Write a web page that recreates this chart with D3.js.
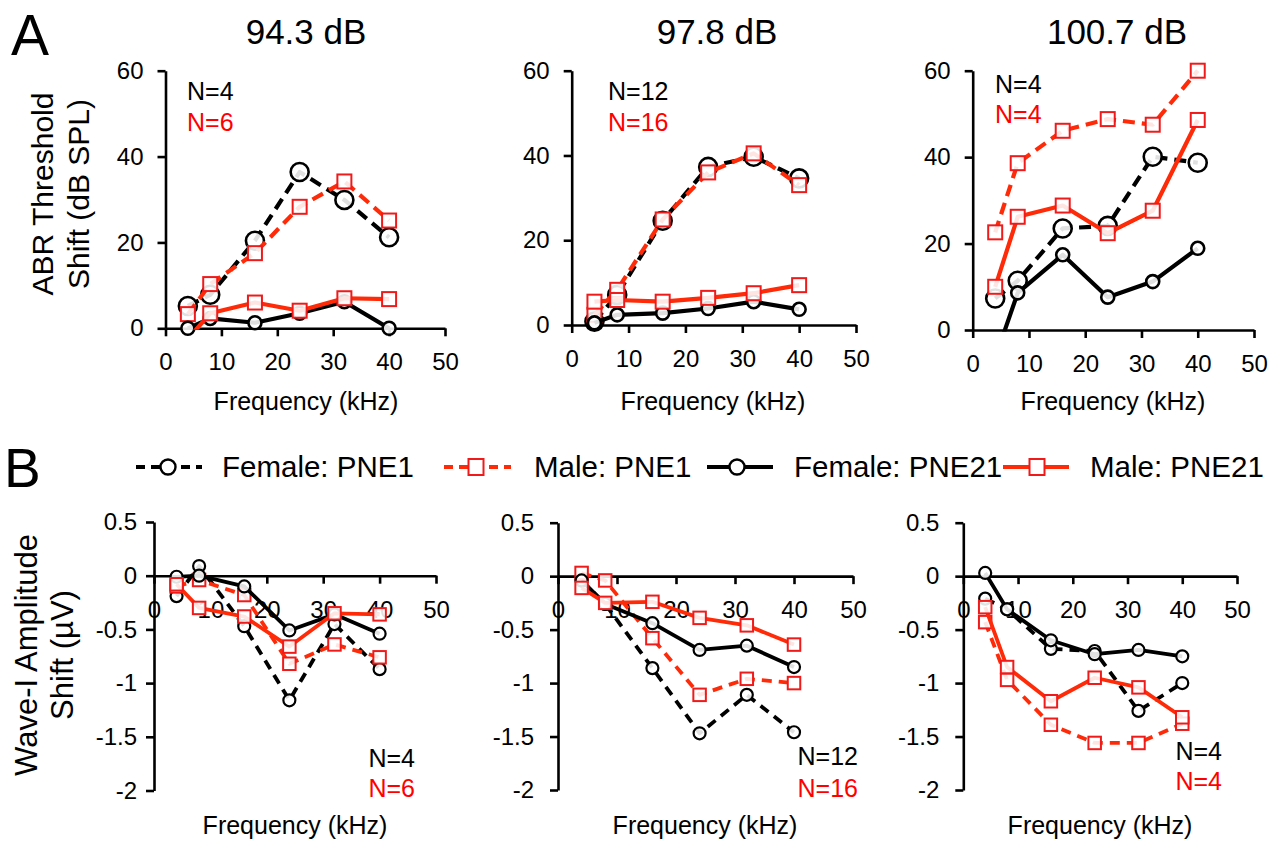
<!DOCTYPE html>
<html>
<head>
<meta charset="utf-8">
<script src="https://cdn.jsdelivr.net/npm/d3@7"></script>
<style>
  body { margin: 0; background: #fff; }
  text { font-family: "Liberation Sans", Arial, Helvetica, sans-serif; }
</style>
</head>
<body>
<svg id="chart"></svg>
<script>
// Data
const frequencies = [4, 8, 16, 24, 32, 40];
const soundLevels = ["94.3 dB", "97.8 dB", "100.7 dB"];
const femaleN = ["N=4", "N=12", "N=4"];
const maleN = ["N=6", "N=16", "N=4"];
const seriesLabels = ["Female: PNE1", "Male: PNE1", "Female: PNE21", "Male: PNE21"];
const xTicks = [0, 10, 20, 30, 40, 50];
const abrTicks = [0, 20, 40, 60];
const waveTicks = [0.5, 0, -0.5, -1, -1.5, -2];

// ABR threshold shift (dB SPL), one row per sound level
const abrFemalePNE1 = [
    [5.2, 7.8, 20.4, 36.4, 29.9, 21.2],
    [0.8, 7.1, 24.6, 37.3, 39.7, 34.6],
    [7.3, 11.4, 23.5, 24.1, 40.1, 38.7]
];
const abrMalePNE1 = [
    [3.3, 10.3, 17.5, 28.3, 34.2, 25.1],
    [2.4, 8.3, 24.9, 36.0, 40.5, 33.0],
    [22.6, 38.6, 46.1, 48.8, 47.5, 60.0]
];
const abrFemalePNE21 = [
    [0, 2.3, 1.3, 3.5, 6.2, 0],
    [0.5, 2.4, 2.8, 3.9, 5.5, 3.7],
    [-6.5, 8.6, 17.4, 7.6, 11.2, 18.9]
];
const abrMalePNE21 = [
    [-2.5, 3.5, 6.0, 4.1, 7.0, 6.8],
    [5.5, 5.9, 5.5, 6.4, 7.5, 9.4],
    [10.0, 26.2, 28.8, 22.4, 27.6, 48.6]
];

// Wave-I amplitude shift (uV), one row per sound level
const waveFemalePNE1 = [
    [-0.19, 0.09, -0.47, -1.16, -0.45, -0.87],
    [-0.04, -0.26, -0.86, -1.47, -1.11, -1.46],
    [-0.21, -0.31, -0.68, -0.70, -1.26, -1.00]
];
const waveMalePNE1 = [
    [-0.10, -0.04, -0.18, -0.82, -0.64, -0.76],
    [0.03, -0.04, -0.58, -1.11, -0.96, -1.00],
    [-0.43, -0.97, -1.39, -1.56, -1.56, -1.38]
];
const waveFemalePNE21 = [
    [-0.01, 0.0, -0.10, -0.51, -0.36, -0.54],
    [-0.04, -0.26, -0.44, -0.69, -0.65, -0.85],
    [0.03, -0.31, -0.60, -0.73, -0.69, -0.75]
];
const waveMalePNE21 = [
    [-0.08, -0.30, -0.38, -0.66, -0.35, -0.36],
    [-0.11, -0.25, -0.24, -0.39, -0.46, -0.64],
    [-0.29, -0.85, -1.17, -0.95, -1.04, -1.32]
];

// Styling
const width = 1282, height = 841;
const black = "#000";
const lineRed = "#ff2b08";
const markRed = "#f01a1a";
const textRed = "#ff0000";
const styles = [
    { stroke: black, dashed: true, shape: "circle", big: true },
    { stroke: lineRed, dashed: true, shape: "square" },
    { stroke: black, dashed: false, shape: "circle", big: false },
    { stroke: lineRed, dashed: false, shape: "square" }
];

// Panel geometry
const topPanels = [
    { left: 165.5, right: 445, top: 70.7, bottom: 328.3, pad: 14, title: 306, freq: 306, nx: 187, ny: [100, 131] },
    { left: 571.7, right: 856, top: 70.7, bottom: 325, pad: 14, title: 717, freq: 713, nx: 608, ny: [100, 131] },
    { left: 972.7, right: 1254, top: 70.7, bottom: 330, pad: 14, title: 1117, freq: 1113, nx: 995, ny: [93, 123] }
];
const bottomPanels = [
    { left: 154, right: 436, top: 522, bottom: 790.5, pad: 9, freq: 295, nx: 415, ny: [767, 797] },
    { left: 558, right: 853, top: 522.7, bottom: 790, pad: 16, freq: 705, nx: 858, ny: [765, 797] },
    { left: 963.3, right: 1237, top: 522.7, bottom: 790, pad: 16, freq: 1100, nx: 1222, ny: [760, 790] }
];

const svg = d3.select("#chart")
    .attr("width", width)
    .attr("height", height);

function styleAxis(g, fontSize) {
    g.select(".domain").attr("stroke", black).attr("stroke-width", 2.6);
    g.selectAll(".tick line").attr("stroke", black).attr("stroke-width", 2.6);
    g.selectAll(".tick text")
        .attr("fill", black)
        .style("font-size", fontSize + "px")
        .style("font-family", "'Liberation Sans', Arial, sans-serif");
}

function drawPanel(geo, idx, yDomain, yTicks, seriesData, isTop) {
    const g = svg.append("g");
    const x = d3.scaleLinear().domain([0, 50]).range([geo.left, geo.right]);
    const y = d3.scaleLinear().domain(yDomain).range([geo.bottom, geo.top]);

    // y axis
    const ya = g.append("g")
        .attr("transform", `translate(${geo.left},0)`)
        .call(d3.axisLeft(y).tickValues(yTicks).tickSize(8).tickSizeOuter(0)
            .tickPadding(geo.pad).tickFormat(d => String(d)));
    styleAxis(ya, 24);

    // x axis at zero
    const xa = g.append("g")
        .attr("transform", `translate(0,${y(0)})`)
        .call(d3.axisBottom(x).tickValues(xTicks).tickSize(8).tickSizeOuter(0).tickPadding(17));
    styleAxis(xa, 24);

    // clip lines at the zero line for the threshold panels
    const clipId = "clip" + (isTop ? "t" : "b") + idx;
    g.append("clipPath").attr("id", clipId)
        .append("rect")
        .attr("x", geo.left - 20).attr("width", geo.right - geo.left + 40)
        .attr("y", geo.top - 30)
        .attr("height", (isTop ? y(0) + 1.5 : geo.bottom + 20) - (geo.top - 30));

    const line = d3.line().x(d => x(d.f)).y(d => y(d.v));

    seriesData.forEach((vals, si) => {
        const st = styles[si];
        const pts = frequencies.map((f, i) => ({ f: f, v: vals[idx][i] }));
        g.append("path")
            .datum(pts)
            .attr("clip-path", `url(#${clipId})`)
            .attr("fill", "none")
            .attr("stroke", st.stroke)
            .attr("stroke-width", isTop ? 4.2 : 3.8)
            .attr("stroke-dasharray", st.dashed ? (isTop ? "12,7" : "10,7") : null)
            .attr("stroke-linejoin", "round")
            .attr("d", line);

        const shown = pts.filter(d => d.v >= yDomain[0]);
        if (st.shape === "circle") {
            const r = isTop ? (st.big ? 9 : 6.5) : 6;
            g.selectAll(null).data(shown).enter().append("circle")
                .attr("cx", d => x(d.f)).attr("cy", d => y(d.v)).attr("r", r)
                .attr("fill", "#fff").attr("fill-opacity", 0.88)
                .attr("stroke", black).attr("stroke-width", isTop ? 2.6 : 2.2);
        } else {
            const s = isTop ? 14 : 12.5;
            g.selectAll(null).data(shown).enter().append("rect")
                .attr("x", d => x(d.f) - s / 2).attr("y", d => y(d.v) - s / 2)
                .attr("width", s).attr("height", s)
                .attr("fill", "#fff").attr("fill-opacity", 0.88)
                .attr("stroke", markRed).attr("stroke-width", 2);
        }
    });

    // N labels
    const anchor = isTop ? "start" : "end";
    g.append("text").attr("x", geo.nx).attr("y", geo.ny[0])
        .attr("text-anchor", anchor).style("font-size", "25px").attr("fill", black)
        .text(femaleN[idx]);
    g.append("text").attr("x", geo.nx).attr("y", geo.ny[1])
        .attr("text-anchor", anchor).style("font-size", "25px").attr("fill", textRed)
        .text(maleN[idx]);

    // x axis title
    g.append("text").attr("x", geo.freq).attr("y", isTop ? 410 : 834)
        .attr("text-anchor", "middle").style("font-size", "25px")
        .text("Frequency (kHz)");

    if (isTop) {
        g.append("text").attr("x", geo.title).attr("y", 44)
            .attr("text-anchor", "middle").style("font-size", "35px")
            .text(soundLevels[idx]);
    }
}

const abrSeries = [abrFemalePNE1, abrMalePNE1, abrFemalePNE21, abrMalePNE21];
const waveSeries = [waveFemalePNE1, waveMalePNE1, waveFemalePNE21, waveMalePNE21];

topPanels.forEach((geo, i) => drawPanel(geo, i, [0, 60], abrTicks, abrSeries, true));
bottomPanels.forEach((geo, i) => drawPanel(geo, i, [-2, 0.5], waveTicks, waveSeries, false));

// Panel letters
svg.append("text").attr("x", 11).attr("y", 55).style("font-size", "57px").text("A");
svg.append("text").attr("x", 4).attr("y", 487).style("font-size", "55px").text("B");

// Y axis titles
function yTitle(lines, xs, cy, size) {
    lines.forEach((t, i) => {
        svg.append("text")
            .attr("transform", `translate(${xs[i]},${cy}) rotate(-90)`)
            .attr("text-anchor", "middle")
            .style("font-size", size + "px")
            .text(t);
    });
}
yTitle(["ABR Threshold", "Shift (dB SPL)"], [53, 89], 194, 30);
yTitle(["Wave-I Amplitude", "Shift (\u00b5V)"], [37, 73], 655, 31);

// Legend
const legendPos = [
    { x1: 136, x2: 202, mx: 168, tx: 222 },
    { x1: 444, x2: 511, mx: 476, tx: 534 },
    { x1: 707, x2: 773, mx: 737, tx: 794 },
    { x1: 1003, x2: 1069, mx: 1037, tx: 1090 }
];
const legendY = 467;
seriesLabels.forEach((label, i) => {
    const st = styles[i];
    const p = legendPos[i];
    svg.append("line")
        .attr("x1", p.x1).attr("x2", p.x2).attr("y1", legendY).attr("y2", legendY)
        .attr("stroke", st.stroke).attr("stroke-width", 4)
        .attr("stroke-dasharray", st.dashed ? "9,6" : null);
    if (st.shape === "circle") {
        svg.append("circle").attr("cx", p.mx).attr("cy", legendY).attr("r", 7.5)
            .attr("fill", "#fff").attr("stroke", black).attr("stroke-width", 2.4);
    } else {
        svg.append("rect").attr("x", p.mx - 7.5).attr("y", legendY - 8)
            .attr("width", 15).attr("height", 16)
            .attr("fill", "#fff").attr("stroke", markRed).attr("stroke-width", 2);
    }
    svg.append("text").attr("x", p.tx).attr("y", 477)
        .style("font-size", "29.5px").text(label);
});
</script>
</body>
</html>
